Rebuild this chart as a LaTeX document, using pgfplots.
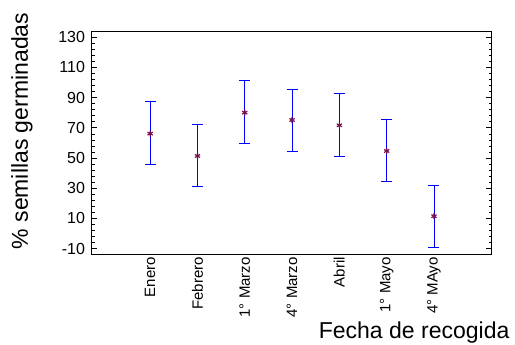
\documentclass[border=0pt]{standalone}
\usepackage{fontspec}
\setmainfont{Liberation Sans}
\usepackage{pgfplots}
\usepackage{pgfplotstable}
\pgfplotsset{compat=1.18}
\definecolor{markc}{RGB}{120,16,80}
\pgfplotstableread{
x y ep em
1 66.2 21.2 20.3
2 51.4 21.0 20.5
3 80.1 21.0 20.3
4 75.2 20.4 21.0
5 71.7 21.0 20.5
6 54.7 21.0 20.5
7 11.5 20.5 20.8
}\mydata
\begin{document}
\begin{tikzpicture}[x=1pt,y=1pt]
\begin{axis}[
  at={(91.5pt,90pt)}, anchor=south west,
  scale only axis, width=400.2pt, height=223.3pt,
  xmin=-0.24, xmax=8.22, ymin=-14.2, ymax=133.7,
  axis line style={black, line width=1pt},
  xtick={1,...,7},
  xticklabels={Enero,Febrero,1° Marzo,4° Marzo,Abril,1° Mayo,4° MAyo},
  xticklabel style={rotate=90, anchor=east, font=\fontsize{15}{18}\selectfont, inner sep=2pt},
  major x tick style={draw=none},
  ytick={-10,10,...,130},
  minor y tick num=4,
  ytick pos=both,
  tick align=inside,
  major tick length=5.5pt,
  minor tick length=3.2pt,
  tick style={black, line width=0.8pt},
  yticklabel style={font=\fontsize{16}{19}\selectfont, xshift=-3pt},
  /pgf/number format/assume math mode=true,
  ylabel={\% semillas germinadas},
  ylabel style={at={(axis description cs:-0.174,0.555)}, anchor=center, rotate=0, font=\fontsize{23}{28}\selectfont},
  xlabel={Fecha de recogida},
  xlabel style={at={(axis description cs:1.053,-0.373)}, anchor=base east, font=\fontsize{23}{28}\selectfont},
]
\addplot[only marks, mark=asterisk, mark size=3pt, color=markc, line width=1.2pt,
  error bars/.cd, y dir=both, y explicit,
  error bar style={blue, line width=0.9pt},
  error mark options={rotate=90, blue, mark size=5.5pt, line width=0.9pt}]
  table[x=x, y=y, y error plus=ep, y error minus=em]{\mydata};
\end{axis}
\pgfresetboundingbox
\path (0,0) rectangle (515,345);
\end{tikzpicture}
\end{document}
